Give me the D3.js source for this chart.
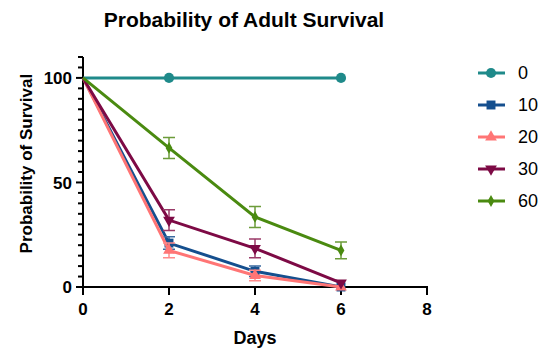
<!DOCTYPE html>
<html>
<head>
<meta charset="utf-8">
<script src="https://cdn.jsdelivr.net/npm/d3@7"></script>
<style>
  body { margin: 0; background: #fff; }
  text { font-family: "Liberation Sans", Arial, sans-serif; fill: #000; }
</style>
</head>
<body>
<div id="chart"></div>
<script>
var width = 548, height = 352;

// data
var groups = ["0", "10", "20", "30", "60"];
var colors = ["#1f8a8a", "#154f8e", "#ff7575", "#7d0a45", "#4a8a10"];
var errColors = ["#1f8a8a", "#3a6aa0", "#ff8c8c", "#9a3a68", "#6c9c3a"];
var symbols = [d3.symbolCircle, d3.symbolSquare, d3.symbolTriangle, "triDown", d3.symbolDiamond];
var days = [[0, 2, 6], [0, 2, 4, 6], [0, 2, 4, 6], [0, 2, 4, 6], [0, 2, 4, 6]];
var means = [[100, 100, 100], [100, 21, 7.5, 0], [100, 17.5, 5.5, 0], [100, 32, 18.5, 2], [100, 66.5, 33.5, 17.5]];
var errs = [[0, 0, 0], [0, 3, 2.5, 0], [0, 3.5, 2.5, 0], [0, 5, 4.5, 0], [0, 5, 5, 4]];
var xTicks = [0, 2, 4, 6, 8];
var yTicks = [0, 50, 100];

var x = d3.scaleLinear().domain([0, 8]).range([83, 427]);
var y = d3.scaleLinear().domain([0, 110]).range([287, 57]);

var svg = d3.select("#chart").append("svg")
    .attr("width", width)
    .attr("height", height);

svg.append("text")
    .attr("x", 244).attr("y", 27)
    .attr("text-anchor", "middle")
    .style("font-size", "21px").style("font-weight", "bold")
    .text("Probability of Adult Survival");

// y axis with minor ticks
var gy = svg.append("g").attr("transform", "translate(" + x(0) + ",0)");
gy.append("line").attr("y1", y(110)).attr("y2", y(0))
    .attr("stroke", "#000").attr("stroke-width", 2);
d3.range(0, 111, 5).forEach(function(v) {
  var major = yTicks.indexOf(v) >= 0;
  gy.append("line").attr("x1", major ? -7 : -5).attr("x2", 0)
      .attr("y1", y(v)).attr("y2", y(v))
      .attr("stroke", "#000").attr("stroke-width", 2);
});
gy.selectAll("text.yt").data(yTicks).join("text")
    .attr("class", "yt")
    .attr("x", -11).attr("y", d => y(d)).attr("dy", "0.36em")
    .attr("text-anchor", "end")
    .style("font-size", "17px").style("font-weight", "bold")
    .text(d => d);

// x axis
var gx = svg.append("g").attr("transform", "translate(0," + y(0) + ")");
gx.append("line").attr("x1", x(0) - 1).attr("x2", x(8) + 1)
    .attr("stroke", "#000").attr("stroke-width", 2);
gx.selectAll("line.xt").data(xTicks).join("line")
    .attr("class", "xt")
    .attr("x1", d => x(d)).attr("x2", d => x(d))
    .attr("y1", 0).attr("y2", 8)
    .attr("stroke", "#000").attr("stroke-width", 2);
gx.selectAll("text.xt").data(xTicks).join("text")
    .attr("class", "xt")
    .attr("x", d => x(d)).attr("y", 28)
    .attr("text-anchor", "middle")
    .style("font-size", "17px").style("font-weight", "bold")
    .text(d => d);

svg.append("text")
    .attr("x", x(4)).attr("y", 344)
    .attr("text-anchor", "middle")
    .style("font-size", "18px").style("font-weight", "bold")
    .text("Days");

svg.append("text")
    .attr("transform", "translate(32," + y(59) + ") rotate(-90)")
    .attr("text-anchor", "middle")
    .style("font-size", "17px").style("font-weight", "bold")
    .text("Probability of Survival");

function symPath(s, size) {
  if (s === "triDown") return d3.symbol(d3.symbolTriangle, size)();
  return d3.symbol(s, size)();
}
var symSize = [80, 80, 60, 60, 40];

var line = d3.line().x(d => x(d[0])).y(d => y(d[1]));
var plot = svg.append("g");

groups.forEach(function(g, i) {
  var pts = days[i].map((d, j) => [d, means[i][j], errs[i][j]]);
  var gg = plot.append("g");
  gg.append("path").datum(pts)
      .attr("d", line).attr("fill", "none")
      .attr("stroke", colors[i]).attr("stroke-width", 3);
  pts.filter(p => p[2] > 0).forEach(function(p) {
    var cx = x(p[0]);
    gg.append("path")
        .attr("d", "M" + cx + "," + y(p[1] - p[2]) + "V" + y(p[1] + p[2]) +
                   "M" + (cx - 6) + "," + y(p[1] - p[2]) + "H" + (cx + 6) +
                   "M" + (cx - 6) + "," + y(p[1] + p[2]) + "H" + (cx + 6))
        .attr("stroke", errColors[i]).attr("stroke-width", 1.5).attr("fill", "none");
  });
  gg.selectAll("path.pt").data(pts.filter(p => p[0] > 0)).join("path")
      .attr("class", "pt")
      .attr("d", symPath(symbols[i], symSize[i]))
      .attr("transform", d => "translate(" + x(d[0]) + "," + y(d[1]) + ")" +
            (symbols[i] === "triDown" ? " rotate(180)" : ""))
      .attr("fill", colors[i]);
});

// legend
var leg = svg.append("g");
groups.forEach(function(g, i) {
  var ly = 73 + i * 32;
  leg.append("line").attr("x1", 478).attr("x2", 505).attr("y1", ly).attr("y2", ly)
      .attr("stroke", colors[i]).attr("stroke-width", 3);
  leg.append("path")
      .attr("d", symPath(symbols[i], symSize[i]))
      .attr("transform", "translate(491," + ly + ")" + (symbols[i] === "triDown" ? " rotate(180)" : ""))
      .attr("fill", colors[i]);
  leg.append("text").attr("x", 518).attr("y", ly).attr("dy", "0.36em")
      .style("font-size", "18px")
      .text(g);
});
</script>
</body>
</html>
